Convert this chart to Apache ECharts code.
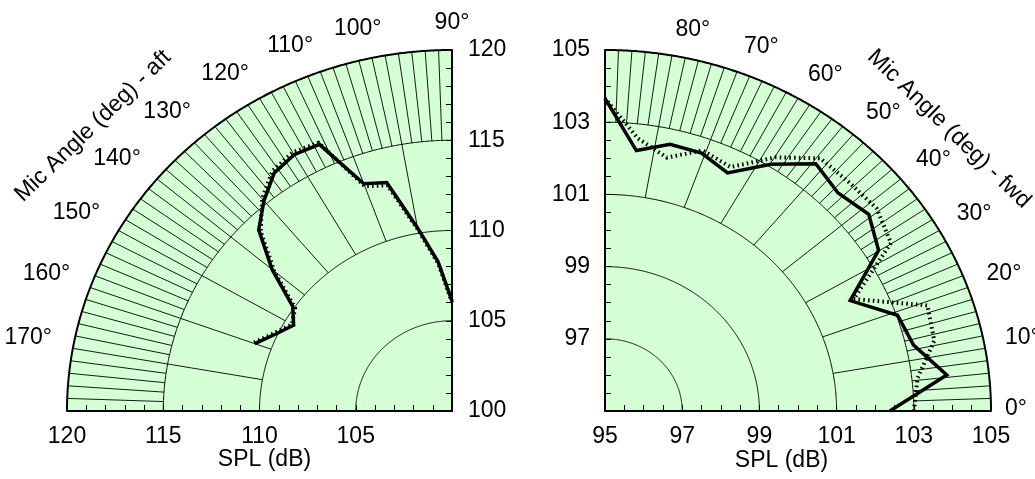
<!DOCTYPE html>
<html>
<head>
<meta charset="utf-8">
<script src="https://cdn.jsdelivr.net/npm/echarts@6/dist/echarts.min.js"></script>
<style>
html,body{margin:0;padding:0;background:#fff;}
#chart{width:1035px;height:479px;}
</style>
</head>
<body>
<div id="chart"></div>
<script>
// ---------------- DATA ----------------
// Left polar quadrant (aft): mic angle (deg) and SPL (dB)
const leftAngles = [90, 95, 100, 105, 110, 115, 120, 125, 130, 135, 140, 145, 150, 155, 160];
const leftSolid  = [106.1, 108.3, 110.3, 113.1, 113.4, 116.3, 116.4, 116.1, 115.2, 114.2, 112.2, 110.1, 109.5, 110.1, 110.9];
const leftDotted = [106.0, 108.2, 110.2, 112.95, 113.25, 116.4, 116.55, 116.25, 115.35, 114.05, 112.05, 109.95, 109.6, 110.2, 111.0];

// Right polar quadrant (fwd)
const rightAngles = [0, 6.43, 12.86, 19.29, 25.71, 32.14, 38.57, 45, 51.43, 57.86, 64.29, 70.71, 77.14, 83.57, 90];
const rightSolid  = [102.38, 103.91, 103.2, 103.03, 102.05, 103.37, 103.74, 103.54, 103.76, 103.07, 102.32, 102.57, 102.58, 102.26, 103.66];
const rightDotted = [103.0, 103.15, 103.75, 103.85, 102.15, 103.75, 104.0, 103.95, 103.95, 103.3, 102.5, 102.65, 102.2, 102.6, 103.66];

// Axis ranges / ticks
const leftSPLMin = 100, leftSPLMax = 120;
const rightSPLMin = 95, rightSPLMax = 105;
const leftRingSPL  = [105, 110, 115, 120];
const rightRingSPL = [97, 99, 101, 103, 105];
const leftAngleLabels  = [90, 100, 110, 120, 130, 140, 150, 160, 170];
const rightAngleLabels = [0, 10, 20, 30, 40, 50, 60, 70, 80];
const leftRadialTickLabels  = [100, 105, 110, 115, 120];
const rightRadialTickLabels = [95, 97, 99, 101, 103, 105];

// ---------------- STYLE ----------------
const FONT = '"Liberation Sans", Arial, Helvetica, sans-serif';
const FS = 23;
const GREEN = '#d5ffd5';

function toXY(side, angDeg, r) {
  const t = angDeg * Math.PI / 180;
  return side === 'L' ? [-r * Math.cos(t), r * Math.sin(t)] : [r * Math.cos(t), r * Math.sin(t)];
}

function plotSeries(cfg) {
  const side = cfg.side, idx = cfg.idx, R = cfg.max - cfg.min;
  const a0 = cfg.a0, a1 = cfg.a1;
  const series = [];
  // background fill
  series.push({
    type: 'custom', xAxisIndex: idx, yAxisIndex: idx, z: 1, silent: true, data: [[0]],
    renderItem: function (p, api) {
      const pts = [api.coord(toXY(side, a0, 0))];
      for (let a = a0; a <= a1 + 1e-9; a += 0.25) pts.push(api.coord(toXY(side, a, R)));
      return { type: 'polygon', shape: { points: pts }, style: { fill: GREEN, stroke: null } };
    }
  });
  // rings
  series.push({
    type: 'custom', xAxisIndex: idx, yAxisIndex: idx, z: 2, silent: true,
    data: cfg.rings.map(s => [s - cfg.min]),
    renderItem: function (p, api) {
      const r = api.value(0);
      const pts = [];
      for (let a = a0; a <= a1 + 1e-9; a += 0.25) pts.push(api.coord(toXY(side, a, r)));
      return { type: 'polyline', shape: { points: pts }, style: { stroke: '#000', lineWidth: r >= R - 1e-9 ? 2 : 1, fill: null } };
    }
  });
  // spokes
  const spokes = [];
  for (let a = a0 + cfg.majorStep; a < a1 - 1e-9; a += cfg.majorStep) spokes.push([a, cfg.majorFrom - cfg.min, cfg.minorFrom - cfg.min]);
  for (let a = a0 + cfg.minorStep; a < a1 - 1e-9; a += cfg.minorStep) spokes.push([a, cfg.minorFrom - cfg.min, R]);
  series.push({
    type: 'custom', xAxisIndex: idx, yAxisIndex: idx, z: 2, silent: true, data: spokes,
    renderItem: function (p, api) {
      const a = api.value(0), r0 = api.value(1), r1 = api.value(2);
      const p0 = api.coord(toXY(side, a, r0)), p1 = api.coord(toXY(side, a, r1));
      return { type: 'line', shape: { x1: p0[0], y1: p0[1], x2: p1[0], y2: p1[1] }, style: { stroke: '#000', lineWidth: 0.9 } };
    }
  });
  // angle labels
  series.push({
    type: 'custom', xAxisIndex: idx, yAxisIndex: idx, z: 3, silent: true,
    data: cfg.angleLabels.map(a => [a]),
    renderItem: function (p, api) {
      const a = api.value(0);
      let r, align, va, dy;
      if (side === 'L') {
        r = R + 1.1; align = (a === 90) ? 'center' : 'right'; va = 'bottom'; dy = 4;
      } else {
        if (a === 0) { r = R + 0.36; align = 'left'; va = 'middle'; dy = -2; }
        else { r = R + 0.52; align = 'left'; va = 'bottom'; dy = 4; }
      }
      const pt = api.coord(toXY(side, a, r));
      return { type: 'text', x: pt[0], y: pt[1] + dy,
        style: { text: a + '°', fontSize: FS, fontFamily: FONT, fill: '#000', align: align, verticalAlign: va } };
    }
  });
  // data lines
  series.push({
    type: 'line', xAxisIndex: idx, yAxisIndex: idx, z: 5, clip: false, symbol: 'none', silent: true,
    data: cfg.angles.map((a, i) => toXY(side, a, cfg.dotted[i] - cfg.min)),
    lineStyle: { color: '#000', width: 4, type: [1.6, 3.2], cap: 'butt', join: 'miter' }
  });
  series.push({
    type: 'line', xAxisIndex: idx, yAxisIndex: idx, z: 6, clip: false, symbol: 'none', silent: true,
    data: cfg.angles.map((a, i) => toXY(side, a, cfg.solid[i] - cfg.min)),
    lineStyle: { color: '#000', width: 3.5, type: 'solid', cap: 'butt', join: 'miter' }
  });
  return series;
}

function isMult(v, m) { return Math.abs(v / m - Math.round(v / m)) < 1e-6; }

const axisCommon = {
  type: 'value', z: 10,
  axisLine: { show: true, onZero: false, lineStyle: { color: '#000', width: 2 } },
  axisTick: { show: true, inside: true, length: 6, lineStyle: { color: '#000', width: 1 } },
  splitLine: { show: false },
  minorTick: { show: false }
};
function labelStyle(margin, fmt) {
  return { show: true, margin: margin, fontSize: FS, fontFamily: FONT, color: '#000', formatter: fmt };
}

const option = {
  animation: false,
  backgroundColor: '#ffffff',
  grid: [
    { left: 67, top: 50, width: 385, height: 361 },
    { left: 605, top: 50, width: 386, height: 361 }
  ],
  xAxis: [
    Object.assign({}, axisCommon, {
      gridIndex: 0, min: 0, max: leftSPLMax - leftSPLMin, interval: 1, inverse: true, position: 'bottom',
      axisLabel: labelStyle(14, v => { const s = v + leftSPLMin; return (leftRadialTickLabels.indexOf(s) >= 0 && v > 0) ? String(s) : ''; })
    }),
    Object.assign({}, axisCommon, {
      gridIndex: 1, min: 0, max: rightSPLMax - rightSPLMin, interval: 0.5, position: 'bottom',
      axisLabel: labelStyle(14, v => { const s = Math.round((v + rightSPLMin) * 100) / 100; return rightRadialTickLabels.indexOf(s) >= 0 ? String(s) : ''; })
    })
  ],
  yAxis: [
    Object.assign({}, axisCommon, {
      gridIndex: 0, min: 0, max: leftSPLMax - leftSPLMin, interval: 1, position: 'right',
      axisLabel: labelStyle(16, v => { const s = v + leftSPLMin; return leftRadialTickLabels.indexOf(s) >= 0 ? String(s) : ''; })
    }),
    Object.assign({}, axisCommon, {
      gridIndex: 1, min: 0, max: rightSPLMax - rightSPLMin, interval: 0.5, position: 'left',
      axisLabel: labelStyle(15, v => { const s = Math.round((v + rightSPLMin) * 100) / 100; return (rightRadialTickLabels.indexOf(s) >= 0 && v > 0) ? String(s) : ''; })
    })
  ],
  series: [].concat(
    plotSeries({ side: 'L', idx: 0, min: leftSPLMin, max: leftSPLMax, a0: 90, a1: 180, rings: leftRingSPL,
      majorStep: 10, minorStep: 2, majorFrom: 110, minorFrom: 115, angleLabels: leftAngleLabels,
      angles: leftAngles, solid: leftSolid, dotted: leftDotted }),
    plotSeries({ side: 'R', idx: 1, min: rightSPLMin, max: rightSPLMax, a0: 0, a1: 90, rings: rightRingSPL,
      majorStep: 10, minorStep: 2, majorFrom: 101, minorFrom: 103, angleLabels: rightAngleLabels,
      angles: rightAngles, solid: rightSolid, dotted: rightDotted })
  ),
  graphic: [
    { type: 'text', x: 93, y: 126, rotation: 44 * Math.PI / 180, z: 20,
      style: { text: 'Mic Angle (deg) - aft', fontSize: FS, fontFamily: FONT, fill: '#000', align: 'center', verticalAlign: 'middle' } },
    { type: 'text', x: 949, y: 129, rotation: -44 * Math.PI / 180, z: 20,
      style: { text: 'Mic Angle (deg) - fwd', fontSize: FS, fontFamily: FONT, fill: '#000', align: 'center', verticalAlign: 'middle' } },
    { type: 'text', x: 264.5, y: 460, z: 20,
      style: { text: 'SPL (dB)', fontSize: FS, fontFamily: FONT, fill: '#000', align: 'center', verticalAlign: 'middle' } },
    { type: 'text', x: 781.5, y: 461, z: 20,
      style: { text: 'SPL (dB)', fontSize: FS, fontFamily: FONT, fill: '#000', align: 'center', verticalAlign: 'middle' } }
  ]
};

const chart = echarts.init(document.getElementById('chart'), null, { renderer: 'canvas' });
chart.setOption(option);
</script>
</body>
</html>
